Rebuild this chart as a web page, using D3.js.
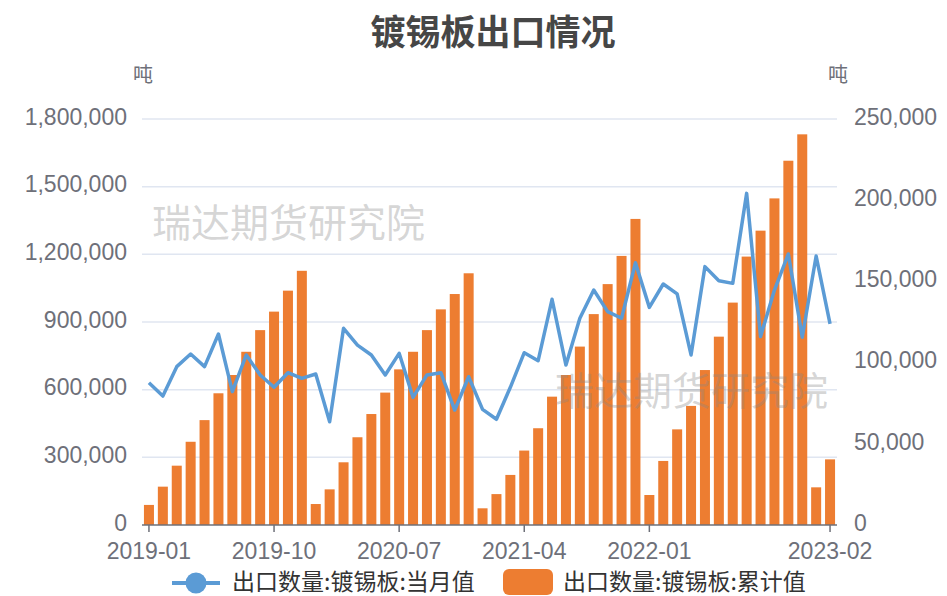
<!DOCTYPE html>
<html>
<head>
<meta charset="utf-8">
<script src="https://cdn.jsdelivr.net/npm/d3@7"></script>
<style>
    body { margin: 0; background: #fff; }
    svg { display: block; font-family: "Noto Sans CJK SC", "Noto Sans", sans-serif; }
</style>
</head>
<body>
<svg id="chart" width="947" height="596"></svg>
<script>
// Months 2019-01 .. 2023-02
const months = [
    '2019-01','2019-02','2019-03','2019-04','2019-05','2019-06','2019-07','2019-08','2019-09','2019-10','2019-11','2019-12',
    '2020-01','2020-02','2020-03','2020-04','2020-05','2020-06','2020-07','2020-08','2020-09','2020-10','2020-11','2020-12',
    '2021-01','2021-02','2021-03','2021-04','2021-05','2021-06','2021-07','2021-08','2021-09','2021-10','2021-11','2021-12',
    '2022-01','2022-02','2022-03','2022-04','2022-05','2022-06','2022-07','2022-08','2022-09','2022-10','2022-11','2022-12',
    '2023-01','2023-02'
];

// 出口数量:镀锡板:当月值 (right axis)
const monthly = [
    87600, 79400, 97500, 105300, 97500, 117600, 82100, 104700, 92400, 84800, 93800, 90300,
    93000, 63600, 121100, 110800, 104700, 92400, 105700, 78600, 92400, 93800, 70800, 91300,
    71200, 65100, 84800, 106100, 101200, 139000, 98500, 127300, 144700, 131400, 127300, 161500,
    134000, 148400, 142300, 104700, 159100, 150400, 148800, 204200, 116000, 144700, 166900, 115600,
    165600, 123800
];

// 出口数量:镀锡板:累计值 (left axis)
const cumulative = [
    89000, 170000, 263000, 369000, 465000, 584000, 665000, 768000, 864000, 946000, 1039000, 1127000,
    93000, 158000, 278000, 389000, 492000, 587000, 690000, 768000, 864000, 956000, 1024000, 1116000,
    74000, 137000, 222000, 330000, 429000, 569000, 665000, 791000, 935000, 1068000, 1193000, 1357000,
    133000, 284000, 424000, 528000, 687000, 835000, 986000, 1190000, 1305000, 1448000, 1615000, 1732000,
    167000, 291000
];

const leftTicks = [0, 300000, 600000, 900000, 1200000, 1500000, 1800000];
const rightTicks = [0, 50000, 100000, 150000, 200000, 250000];
const xTickLabels = ['2019-01', '2019-10', '2020-07', '2021-04', '2022-01', '2023-02'];

const svg = d3.select('#chart');
const plot = {left: 142, right: 837, top: 119, bottom: 525};
const textColor = '#6e7079';
const numFont = '"Liberation Sans", Arial, sans-serif';
const fontSize = 23;

const x = d3.scalePoint()
    .domain(months)
    .range([plot.left, plot.right])
    .padding(0.5);

const yLeft = d3.scaleLinear()
    .domain([0, 1800000])
    .range([plot.bottom, plot.top]);

const yRight = d3.scaleLinear()
    .domain([0, 250000])
    .range([plot.bottom, plot.top]);

const fmt = d3.format(',');

// Title
svg.append('text')
    .attr('x', 493)
    .attr('y', 45)
    .attr('text-anchor', 'middle')
    .attr('font-size', 35)
    .attr('font-weight', 'bold')
    .attr('fill', '#464646')
    .text('镀锡板出口情况');

// Unit labels
svg.append('text')
    .attr('x', 143).attr('y', 82)
    .attr('text-anchor', 'middle')
    .attr('font-size', 20)
    .attr('fill', textColor)
    .text('吨');
svg.append('text')
    .attr('x', 838).attr('y', 82)
    .attr('text-anchor', 'middle')
    .attr('font-size', 20)
    .attr('fill', textColor)
    .text('吨');

// Grid lines
svg.append('g')
    .selectAll('line')
    .data(leftTicks.filter(d => d > 0))
    .enter()
    .append('line')
    .attr('x1', plot.left)
    .attr('x2', plot.right)
    .attr('y1', d => yLeft(d))
    .attr('y2', d => yLeft(d))
    .attr('stroke', '#e0e6f1')
    .attr('stroke-width', 1.5);

// Left axis labels
svg.append('g')
    .selectAll('text')
    .data(leftTicks)
    .enter()
    .append('text')
    .attr('x', 127)
    .attr('y', d => yLeft(d) - 2.5)
    .attr('dy', '0.36em')
    .attr('text-anchor', 'end')
    .attr('font-family', numFont)
    .attr('font-size', fontSize)
    .attr('fill', textColor)
    .text(d => fmt(d));

// Right axis labels
svg.append('g')
    .selectAll('text')
    .data(rightTicks)
    .enter()
    .append('text')
    .attr('x', 854)
    .attr('y', d => yRight(d) - 2.5)
    .attr('dy', '0.36em')
    .attr('text-anchor', 'start')
    .attr('font-family', numFont)
    .attr('font-size', fontSize)
    .attr('fill', textColor)
    .text(d => fmt(d));

// Bars (cumulative)
const barWidth = x.step() * 0.72;
svg.append('g')
    .selectAll('rect')
    .data(months)
    .enter()
    .append('rect')
    .attr('x', d => x(d) - barWidth / 2)
    .attr('y', (d, i) => yLeft(cumulative[i]))
    .attr('width', barWidth)
    .attr('height', (d, i) => plot.bottom - yLeft(cumulative[i]))
    .attr('fill', '#ed7d31');

// X axis
svg.append('line')
    .attr('x1', plot.left).attr('x2', plot.right)
    .attr('y1', plot.bottom).attr('y2', plot.bottom)
    .attr('stroke', textColor)
    .attr('stroke-width', 1.5);

svg.append('g')
    .selectAll('line')
    .data(xTickLabels)
    .enter()
    .append('line')
    .attr('x1', d => x(d)).attr('x2', d => x(d))
    .attr('y1', plot.bottom).attr('y2', plot.bottom + 7)
    .attr('stroke', textColor)
    .attr('stroke-width', 1.5);

svg.append('g')
    .selectAll('text')
    .data(xTickLabels)
    .enter()
    .append('text')
    .attr('x', d => x(d))
    .attr('y', 559)
    .attr('text-anchor', 'middle')
    .attr('font-family', numFont)
    .attr('font-size', fontSize)
    .attr('fill', textColor)
    .text(d => d);

// Line (monthly)
const line = d3.line()
    .x((d, i) => x(months[i]))
    .y(d => yRight(d));

svg.append('path')
    .datum(monthly)
    .attr('d', line)
    .attr('fill', 'none')
    .attr('stroke', '#5b9bd5')
    .attr('stroke-width', 3.5)
    .attr('stroke-linejoin', 'round');

// Watermarks
[[152, 237], [555, 405]].forEach(p => {
    svg.append('text')
        .attr('x', p[0])
        .attr('y', p[1])
        .attr('font-size', 39)
        .attr('fill', '#888')
        .attr('fill-opacity', 0.35)
        .text('瑞达期货研究院');
});

// Legend
const legend = svg.append('g').attr('font-size', fontSize).attr('fill', '#333');
legend.append('line')
    .attr('x1', 172).attr('x2', 220)
    .attr('y1', 583).attr('y2', 583)
    .attr('stroke', '#5b9bd5')
    .attr('stroke-width', 4);
legend.append('circle')
    .attr('cx', 196).attr('cy', 583)
    .attr('r', 10.5)
    .attr('fill', '#5b9bd5');
legend.append('text')
    .attr('x', 232).attr('y', 582)
    .attr('dy', '0.36em')
    .text('出口数量:镀锡板:当月值');

legend.append('rect')
    .attr('x', 503).attr('y', 569)
    .attr('width', 50).attr('height', 26)
    .attr('rx', 6)
    .attr('fill', '#ed7d31');
legend.append('text')
    .attr('x', 563).attr('y', 582)
    .attr('dy', '0.36em')
    .text('出口数量:镀锡板:累计值');
</script>
</body>
</html>
